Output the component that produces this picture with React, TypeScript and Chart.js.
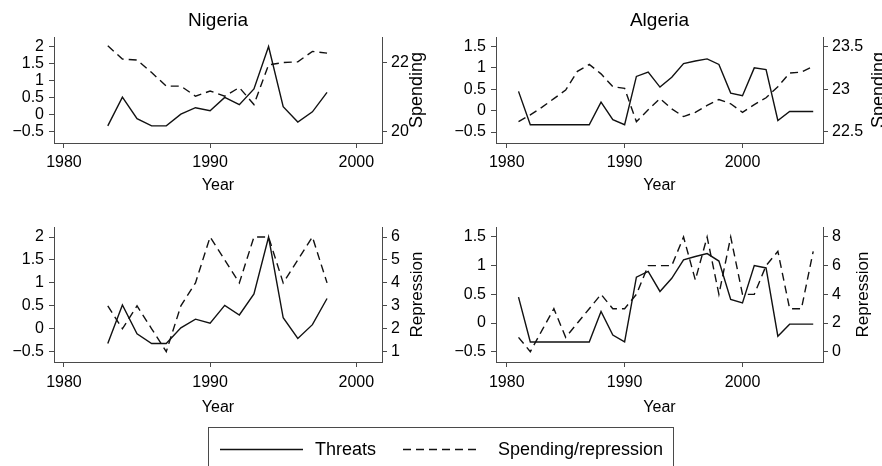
import React, { useEffect, useRef } from "react";
import { Chart, registerables } from "chart.js";

Chart.register(...registerables);

const FONT = "'Liberation Sans', Arial, Helvetica, sans-serif";
const LINE = "#111111";
const AXIS = "#4a4a4a";

// ---------------- data ----------------
const nigeriaYears = [1983, 1984, 1985, 1986, 1987, 1988, 1989, 1990, 1991, 1992, 1993, 1994, 1995, 1996, 1997, 1998];
const nigeriaThreats = [-0.32, 0.52, -0.11, -0.32, -0.32, 0.02, 0.21, 0.12, 0.51, 0.3, 0.76, 2.0, 0.24, -0.21, 0.09, 0.66];
const nigeriaSpending = [22.48, 22.1, 22.07, 21.71, 21.32, 21.32, 21.03, 21.18, 21.03, 21.28, 20.79, 21.93, 22.0, 22.02, 22.32, 22.27];
const nigeriaRepression = [3, 2, 3, 2, 1, 3, 4, 6, 5, 4, 6, 6, 4, 5, 6, 4];

const algeriaYears = [1981, 1982, 1983, 1984, 1985, 1986, 1987, 1988, 1989, 1990, 1991, 1992, 1993, 1994, 1995, 1996, 1997, 1998, 1999, 2000, 2001, 2002, 2003, 2004, 2005, 2006];
const algeriaThreats = [0.45, -0.33, -0.33, -0.33, -0.33, -0.33, -0.33, 0.2, -0.21, -0.33, 0.8, 0.9, 0.55, 0.78, 1.1, 1.16, 1.21, 1.08, 0.41, 0.35, 1.0, 0.96, -0.23, -0.02, -0.02, -0.02];
const algeriaSpending = [22.62, 22.7, 22.79, 22.89, 22.99, 23.21, 23.29, 23.18, 23.03, 23.01, 22.62, 22.76, 22.89, 22.77, 22.68, 22.73, 22.81, 22.88, 22.83, 22.73, 22.82, 22.9, 23.03, 23.19, 23.2, 23.27];
const algeriaRepression = [1, 0, 1.5, 3, 1, 2, 3, 4, 3, 3, 4, 6, 6, 6, 8, 5, 8, 4, 8, 4, 4, 6, 7, 3, 3, 7];

const yearTicks = [1980, 1990, 2000];
const nigeriaThreatTicks = [-0.5, 0, 0.5, 1, 1.5, 2];
const algeriaThreatTicks = [-0.5, 0, 0.5, 1, 1.5];
const nigeriaSpendingTicks = [20, 22];
const algeriaSpendingTicks = [22.5, 23, 23.5];
const nigeriaRepressionTicks = [1, 2, 3, 4, 5, 6];
const algeriaRepressionTicks = [0, 2, 4, 6, 8];

const legendLabels = ["Threats", "Spending/repression"];

// ---------------- panels ----------------
type Spec = {
  x: number; y: number; w: number; h: number;
  area: { l: number; r: number; t: number; b: number };
  title?: string;
  xMin: number; xMax: number;
  years: number[]; threats: number[]; other: number[];
  yMin: number; yMax: number; yTicks: number[];
  y2Min: number; y2Max: number; y2Ticks: number[];
  sideTitle: string; sideOffset: number; sideSize: number;
  xLabelPad: number; xTitlePad: number;
};

const specs: Spec[] = [
  {
    x: 0, y: 0, w: 441, h: 200, area: { l: 54, r: 382, t: 37, b: 143 }, title: "Nigeria",
    xMin: 1979.32, xMax: 2001.76, years: nigeriaYears, threats: nigeriaThreats, other: nigeriaSpending,
    yMin: -0.822, yMax: 2.278, yTicks: nigeriaThreatTicks,
    y2Min: 19.683, y2Max: 22.734, y2Ticks: nigeriaSpendingTicks,
    sideTitle: "Spending", sideOffset: 35, sideSize: 18, xLabelPad: 5, xTitlePad: 4.4,
  },
  {
    x: 441, y: 0, w: 441, h: 200, area: { l: 55, r: 382, t: 37, b: 143 }, title: "Algeria",
    xMin: 1979.09, xMax: 2006.83, years: algeriaYears, threats: algeriaThreats, other: algeriaSpending,
    yMin: -0.757, yMax: 1.722, yTicks: algeriaThreatTicks,
    y2Min: 22.371, y2Max: 23.611, y2Ticks: algeriaSpendingTicks,
    sideTitle: "Spending", sideOffset: 56, sideSize: 18, xLabelPad: 5, xTitlePad: 4.4,
  },
  {
    x: 0, y: 200, w: 441, h: 222, area: { l: 54, r: 382, t: 27, b: 162 },
    xMin: 1979.32, xMax: 2001.76, years: nigeriaYears, threats: nigeriaThreats, other: nigeriaRepression,
    yMin: -0.724, yMax: 2.218, yTicks: nigeriaThreatTicks,
    y2Min: 0.551, y2Max: 6.436, y2Ticks: nigeriaRepressionTicks,
    sideTitle: "Repression", sideOffset: 35, sideSize: 17, xLabelPad: 5.5, xTitlePad: 4.9,
  },
  {
    x: 441, y: 200, w: 441, h: 222, area: { l: 55, r: 382, t: 27, b: 162 },
    xMin: 1979.09, xMax: 2006.83, years: algeriaYears, threats: algeriaThreats, other: algeriaRepression,
    yMin: -0.68, yMax: 1.674, yTicks: algeriaThreatTicks,
    y2Min: -0.718, y2Max: 8.697, y2Ticks: algeriaRepressionTicks,
    sideTitle: "Repression", sideOffset: 40, sideSize: 17, xLabelPad: 5.5, xTitlePad: 4.9,
  },
];

const fmt = (v: number | string) => String(v).replace("-", "\u2212");

const sideTitlePlugin = {
  id: "sideTitle",
  afterDraw(chart: any, _args: any, opts: any) {
    const { ctx, chartArea } = chart;
    ctx.save();
    ctx.font = `${opts.size}px ${FONT}`;
    ctx.fillStyle = "#000";
    ctx.textAlign = "center";
    ctx.textBaseline = "middle";
    ctx.translate(chartArea.right + opts.offset, (chartArea.top + chartArea.bottom) / 2);
    ctx.rotate(-Math.PI / 2);
    ctx.fillText(opts.text, 0, 0);
    ctx.restore();
  },
};

const gridCommon = {
  display: true,
  drawOnChartArea: false,
  drawTicks: true,
  tickLength: 5,
  color: AXIS,
  tickColor: AXIS,
  lineWidth: 1,
};

function makeConfig(s: Spec): any {
  const tickFont = { family: FONT, size: 16 };
  return {
    type: "line",
    data: {
      datasets: [
        {
          label: legendLabels[0],
          data: s.years.map((yr, i) => ({ x: yr, y: s.threats[i] })),
          yAxisID: "y",
          borderColor: LINE,
          borderWidth: 1.4,
          pointRadius: 0,
          tension: 0,
          fill: false,
        },
        {
          label: legendLabels[1],
          data: s.years.map((yr, i) => ({ x: yr, y: s.other[i] })),
          yAxisID: "y2",
          borderColor: LINE,
          borderWidth: 1.4,
          borderDash: [8, 5],
          pointRadius: 0,
          tension: 0,
          fill: false,
        },
      ],
    },
    options: {
      responsive: false,
      maintainAspectRatio: false,
      animation: false,
      events: [],
      layout: { padding: { top: s.title ? 0 : s.area.t, left: 0, right: 0, bottom: 0 } },
      plugins: {
        legend: { display: false },
        tooltip: { enabled: false },
        title: s.title
          ? {
              display: true,
              text: s.title,
              fullSize: false,
              color: "#000",
              font: { family: FONT, size: 19, weight: "normal", lineHeight: 1.2 },
              padding: { top: 9.8, bottom: s.area.t - 9.8 - 22.8 },
            }
          : { display: false },
        sideTitle: { text: s.sideTitle, offset: s.sideOffset, size: s.sideSize },
      },
      scales: {
        x: {
          type: "linear",
          position: "bottom",
          min: s.xMin,
          max: s.xMax,
          afterBuildTicks: (sc: any) => {
            sc.ticks = yearTicks.map((v) => ({ value: v }));
          },
          afterFit: (sc: any) => {
            sc.height = s.h - s.area.b;
          },
          ticks: {
            font: tickFont,
            color: "#000",
            padding: s.xLabelPad,
            maxRotation: 0,
            autoSkip: false,
            callback: (v: number) => String(v),
          },
          grid: gridCommon,
          border: { display: true, color: AXIS, width: 1 },
          title: {
            display: true,
            text: "Year",
            color: "#000",
            font: { family: FONT, size: 16 },
            padding: { top: 0, bottom: s.xTitlePad },
          },
        },
        y: {
          type: "linear",
          position: "left",
          min: s.yMin,
          max: s.yMax,
          afterBuildTicks: (sc: any) => {
            sc.ticks = s.yTicks.map((v) => ({ value: v }));
          },
          afterFit: (sc: any) => {
            sc.width = s.area.l;
          },
          ticks: { font: tickFont, color: "#000", padding: 5, autoSkip: false, callback: (v: number) => fmt(v) },
          grid: gridCommon,
          border: { display: true, color: AXIS, width: 1 },
        },
        y2: {
          type: "linear",
          position: "right",
          min: s.y2Min,
          max: s.y2Max,
          afterBuildTicks: (sc: any) => {
            sc.ticks = s.y2Ticks.map((v) => ({ value: v }));
          },
          afterFit: (sc: any) => {
            sc.width = s.w - s.area.r;
          },
          ticks: { font: tickFont, color: "#000", padding: 4, autoSkip: false, callback: (v: number) => fmt(v) },
          grid: gridCommon,
          border: { display: true, color: AXIS, width: 1 },
        },
      },
    },
    plugins: [sideTitlePlugin],
  };
}

function Panel({ spec }: { spec: Spec }) {
  const ref = useRef<HTMLCanvasElement>(null);
  useEffect(() => {
    const chart = new Chart(ref.current as HTMLCanvasElement, makeConfig(spec));
    return () => chart.destroy();
  }, [spec]);
  return (
    <canvas
      ref={ref}
      width={spec.w}
      height={spec.h}
      style={{ position: "absolute", left: spec.x, top: spec.y, width: spec.w, height: spec.h }}
    />
  );
}

function Legend() {
  const textStyle: React.CSSProperties = {
    position: "absolute",
    fontFamily: FONT,
    fontSize: 18,
    lineHeight: "18px",
    color: "#000",
    whiteSpace: "nowrap",
    top: 440,
  };
  return (
    <>
      <div
        style={{
          position: "absolute",
          left: 208,
          top: 427,
          width: 466,
          height: 60,
          border: `1px solid ${AXIS}`,
          boxSizing: "border-box",
        }}
      />
      <svg style={{ position: "absolute", left: 0, top: 0 }} width={882} height={466}>
        <line x1={220} y1={449.5} x2={303} y2={449.5} stroke={LINE} strokeWidth={1.4} />
        <line x1={403} y1={449.5} x2={481} y2={449.5} stroke={LINE} strokeWidth={1.4} strokeDasharray="8 5" />
      </svg>
      <div style={{ ...textStyle, left: 315 }}>{legendLabels[0]}</div>
      <div style={{ ...textStyle, left: 498 }}>{legendLabels[1]}</div>
    </>
  );
}

export default function App() {
  return (
    <div
      style={{
        position: "fixed",
        left: 0,
        top: 0,
        width: 882,
        height: 466,
        overflow: "hidden",
        background: "#fff",
      }}
    >
      {specs.map((s, i) => (
        <Panel key={i} spec={s} />
      ))}
      <Legend />
    </div>
  );
}
